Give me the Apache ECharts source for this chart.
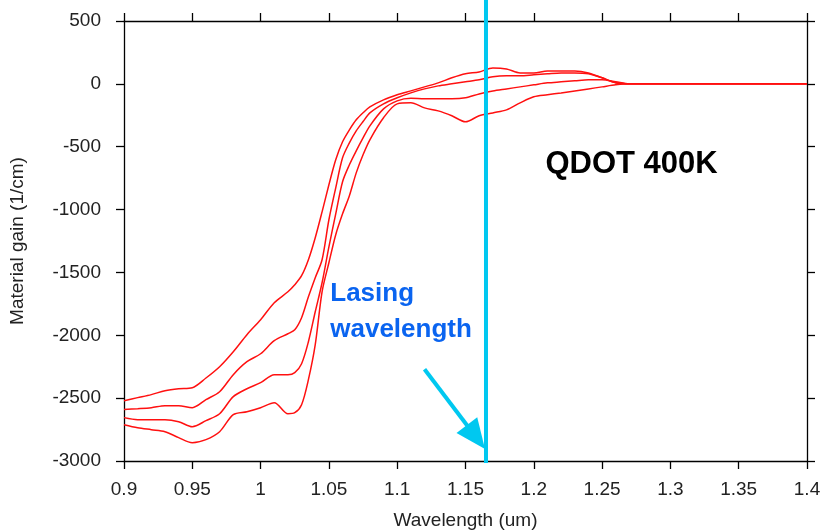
<!DOCTYPE html>
<html>
<head>
<meta charset="utf-8">
<script src="https://cdn.jsdelivr.net/npm/echarts@6/dist/echarts.min.js"></script>
<style>html,body{margin:0;padding:0;background:#fff;}#c{width:825px;height:530px;}</style>
</head>
<body>
<div id="c"></div>
<script>
const wavelengths = [0.90,0.91,0.92,0.93,0.94,0.95,0.96,0.97,0.98,0.99,1.00,1.01,1.02,1.025,1.03,1.035,1.04,1.045,1.05,1.055,1.06,1.065,1.07,1.075,1.08,1.09,1.10,1.11,1.12,1.13,1.14,1.15,1.16,1.17,1.18,1.19,1.20,1.21,1.22,1.23,1.24,1.25,1.26,1.27,1.28,1.30,1.35,1.40];
const gainA = [-2520,-2496,-2472,-2441,-2425,-2417,-2340,-2250,-2131,-1995,-1876,-1741,-1654,-1598,-1526,-1399,-1224,-1018,-803,-604,-461,-366,-286,-230,-183,-127,-87,-56,-24,8,48,80,95,127,119,87,87,103,103,103,87,48,8,0,0,0,0,0];
const gainB = [-2590,-2584,-2576,-2560,-2560,-2576,-2512,-2449,-2313,-2210,-2147,-2043,-1988,-1956,-1860,-1694,-1542,-1399,-1081,-827,-588,-469,-374,-300,-231,-159,-111,-72,-40,-16,0,16,32,56,64,64,72,80,87,87,80,48,8,0,0,0,0,0];
const gainC = [-2655,-2671,-2671,-2671,-2687,-2727,-2679,-2624,-2488,-2425,-2377,-2313,-2313,-2297,-2226,-2051,-1813,-1582,-1296,-1034,-779,-644,-533,-430,-334,-199,-135,-115,-119,-119,-119,-111,-80,-56,-40,-24,-8,8,16,24,32,32,16,0,0,0,0,0];
const gainD = [-2711,-2735,-2751,-2767,-2814,-2854,-2830,-2767,-2631,-2608,-2576,-2536,-2624,-2616,-2552,-2353,-2075,-1654,-1423,-1200,-1034,-890,-708,-564,-445,-270,-159,-151,-191,-215,-254,-302,-254,-231,-207,-151,-103,-87,-72,-56,-40,-24,-8,0,0,0,0,0];
const xTicks = ['0.9','0.95','1','1.05','1.1','1.15','1.2','1.25','1.3','1.35','1.4'];
const yTicks = ['-3000','-2500','-2000','-1500','-1000','-500','0','500'];
const lasingWavelength = 1.165;
const annotationTitle = 'QDOT 400K';
const annotationLabel = 'Lasing\nwavelength';

const chart = echarts.init(document.getElementById('c'), null, {renderer: 'canvas'});
const pairs = g => wavelengths.map((w, i) => [w, g[i]]);
const font = 'Liberation Sans, Arial, sans-serif';
const mkSeries = (name, g) => ({
  name, type: 'line', data: pairs(g), smooth: 0.3, showSymbol: false,
  lineStyle: {color: '#ff1010', width: 1.5}, silent: true, z: 3
});
const axisCommon = {
  axisLine: {show: true, onZero: false, lineStyle: {color: '#000', width: 1.3}},
  axisTick: {show: true, inside: false, length: 8, lineStyle: {color: '#000', width: 1.3}},
  splitLine: {show: false}
};
chart.setOption({
  animation: false,
  backgroundColor: '#fff',
  grid: {left: 124, right: 18, top: 21, bottom: 69, containLabel: false, outerBoundsMode: 'none'},
  xAxis: [
    Object.assign({type: 'value', position: 'bottom', min: 0.9, max: 1.4, interval: 0.05,
      name: 'Wavelength (um)', nameLocation: 'middle', nameGap: 50,
      nameTextStyle: {fontFamily: font, fontSize: 19, color: '#222'},
      axisLabel: {fontFamily: font, fontSize: 19, color: '#222', margin: 19,
        formatter: v => xTicks[Math.round((v - 0.9) / 0.05)]}}, axisCommon),
    Object.assign({type: 'value', position: 'top', min: 0.9, max: 1.4, interval: 0.05,
      axisLabel: {show: false}}, axisCommon)
  ],
  yAxis: [
    Object.assign({type: 'value', position: 'left', min: -3000, max: 500, interval: 500,
      name: 'Material gain (1/cm)', nameLocation: 'middle', nameGap: 97, nameRotate: 90,
      nameTextStyle: {fontFamily: font, fontSize: 19, color: '#222'},
      axisLabel: {fontFamily: font, fontSize: 19, color: '#222', margin: 23,
        formatter: v => yTicks[Math.round((v + 3000) / 500)]}}, axisCommon),
    Object.assign({type: 'value', position: 'right', min: -3000, max: 500, interval: 500,
      axisLabel: {show: false}}, axisCommon)
  ],
  series: [mkSeries('A', gainA), mkSeries('B', gainB), mkSeries('C', gainC), mkSeries('D', gainD)]
});

function drawAnnotations() {
  const p = (x, y) => chart.convertToPixel({gridIndex: 0}, [x, y]);
  const base = p(lasingWavelength, -3000);
  const lx = base[0];
  const arrowStart = p(1.12, -2270);
  const arrowTip = [lx - 1, base[1] - 12];
  const dx = arrowTip[0] - arrowStart[0], dy = arrowTip[1] - arrowStart[1];
  const len = Math.sqrt(dx * dx + dy * dy), ux = dx / len, uy = dy / len;
  const headLen = 30, headW = 13;
  const bx = arrowTip[0] - ux * headLen, by = arrowTip[1] - uy * headLen;
  const titlePos = p(1.2085, -640);
  const labelPos = p(1.051, -1530);
  chart.setOption({
    graphic: [
      {type: 'line', z: 10, shape: {x1: lx, y1: 0, x2: lx, y2: base[1] + 2},
        style: {stroke: '#00c8f0', lineWidth: 4}},
      {type: 'line', z: 10, shape: {x1: arrowStart[0], y1: arrowStart[1], x2: bx + ux * 4, y2: by + uy * 4},
        style: {stroke: '#00c8f0', lineWidth: 4}},
      {type: 'polygon', z: 10, shape: {points: [arrowTip, [bx - uy * headW, by + ux * headW], [bx + uy * headW, by - ux * headW]]},
        style: {fill: '#00c8f0'}},
      {type: 'text', z: 11, x: titlePos[0], y: titlePos[1],
        style: {text: annotationTitle, font: 'bold 31px ' + font, fill: '#000', align: 'left', verticalAlign: 'middle'}},
      {type: 'text', z: 11, x: labelPos[0], y: labelPos[1],
        style: {text: annotationLabel, font: 'bold 26px ' + font, fill: '#0a64f0', align: 'left', verticalAlign: 'top', lineHeight: 36}}
    ]
  });
}
drawAnnotations();
</script>
</body>
</html>
